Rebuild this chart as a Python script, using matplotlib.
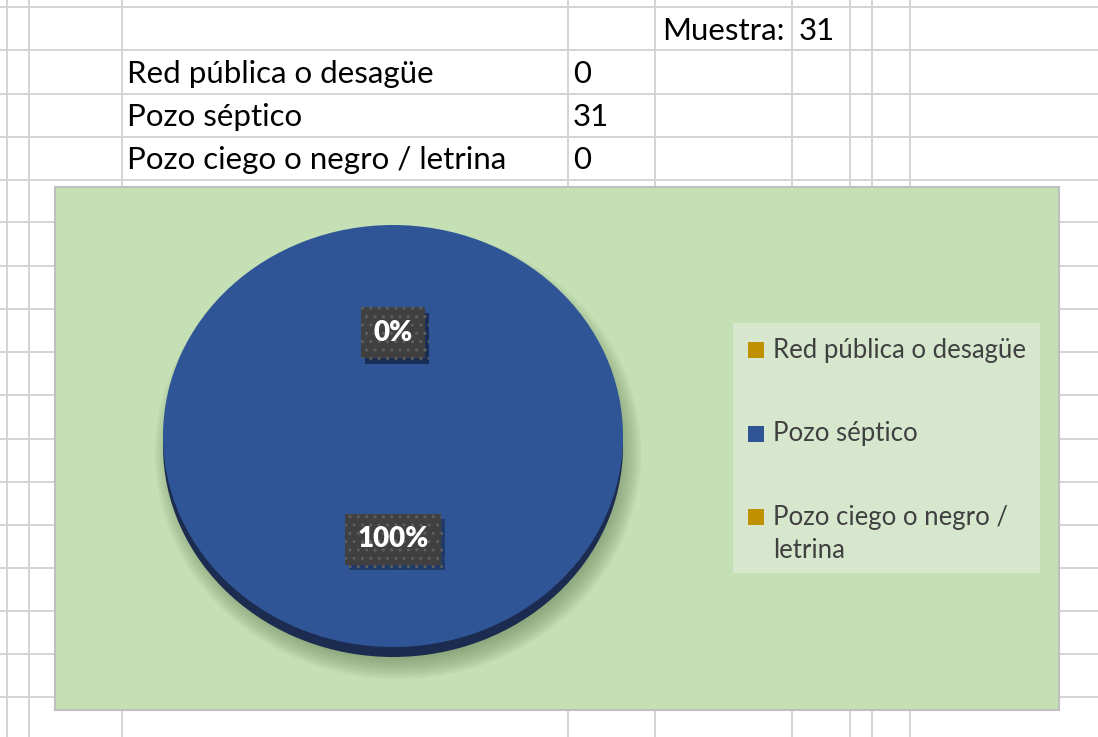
import matplotlib
matplotlib.use("Agg")
import matplotlib.pyplot as plt
from matplotlib.patches import Rectangle, Ellipse
import matplotlib.patheffects as pe

plt.rcParams['font.family'] = ['Lato', 'DejaVu Sans']

# data
categorias = ['Red pública o desagüe', 'Pozo séptico', 'Pozo ciego o negro / letrina']
valores = [0, 31, 0]
muestra = 31
colores = ['#BF9000', '#2F5597', '#BF9000']
leyenda = [['Red pública o desagüe'], ['Pozo séptico'], ['Pozo ciego o negro /', 'letrina']]

W, H = 1098, 737
fig = plt.figure(figsize=(W / 100, H / 100), dpi=100)

# hoja de calculo de fondo (coordenadas en pixeles)
bg = fig.add_axes([0, 0, 1, 1])
bg.set_xlim(0, W)
bg.set_ylim(H, 0)
bg.axis('off')

grid_c = '#D4D4D4'
filas = [7, 50, 94, 137, 180, 222, 266, 309, 352, 395, 439, 482, 525, 568, 611, 654, 697]
cols = [7, 29, 122, 568, 655, 792, 850, 872, 910]
bg.hlines(filas, 0, W, color=grid_c, lw=1.4, zorder=1)
bg.vlines(cols[:2], 0, H, color=grid_c, lw=1.4, zorder=1)
bg.vlines(cols[2:], 0, 187, color=grid_c, lw=1.4, zorder=1)
bg.vlines(cols[2:], 710, H, color=grid_c, lw=1.4, zorder=1)

# tabla
fs_tab = 22.5
bg.text(662, 31, 'Muestra:', fontsize=fs_tab, va='center', color='#000000', zorder=3)
bg.text(799, 31, str(muestra), fontsize=fs_tab, va='center', color='#000000', zorder=3)
for i, (c, v) in enumerate(zip(categorias, valores)):
    y = 74 + i * 43
    bg.text(127, y, c, fontsize=fs_tab, va='center', color='#000000', zorder=3)
    bg.text(573, y, str(v), fontsize=fs_tab, va='center', color='#000000', zorder=3)

# area del grafico
bg.add_patch(Rectangle((55, 187), 1004, 523, facecolor='#C5E0B4',
                       edgecolor='#BFBFBF', lw=1.5, zorder=4))

# sombra y borde 3D del pastel
for k in range(10):
    bg.add_patch(Ellipse((398, 453), 486 - k * 5, 452 - k * 5,
                         facecolor='#5F7A50', edgecolor='none', alpha=0.075, zorder=5))
bg.add_patch(Ellipse((393, 446), 460, 422, facecolor='#1B2C50', edgecolor='none', zorder=6))

# leyenda
bg.add_patch(Rectangle((733, 323), 307, 250, facecolor='#D6E7CE', edgecolor='none', zorder=6))
for i, (lineas, col) in enumerate(zip(leyenda, colores)):
    y = 350 + i * 83.5
    bg.add_patch(Rectangle((748, y - 8), 16, 16, facecolor=col, edgecolor='none', zorder=7))
    for j, lab in enumerate(lineas):
        bg.text(773, y + j * 33, lab, fontsize=18.5, color='#404040', va='center', zorder=7)

# pastel
ax = fig.add_axes([163 / W, 1 - 647 / H, 460 / W, 422 / H])
ax.set_zorder(2)
wedges, _, autot = ax.pie(valores, colors=colores, startangle=90, counterclock=False,
                          autopct='%1.0f%%', pctdistance=0.49,
                          wedgeprops=dict(linewidth=0))
ax.set_xlim(-1, 1)
ax.set_ylim(-1, 1)
ax.set_aspect('auto')
ax.axis('off')

for t in autot:
    t.set_color('white')
    t.set_fontweight('heavy')
    t.set_fontsize(20)
    t.set_bbox(dict(boxstyle='square,pad=0.45', facecolor='#404040',
                    edgecolor='#5E5E5E', lw=0, hatch='..'))
    t.get_bbox_patch().set_path_effects([
        pe.SimplePatchShadow(offset=(3, -4), shadow_rgbFace='#152545', alpha=0.55),
        pe.Normal()])

fig.savefig('out.png', dpi=100)
